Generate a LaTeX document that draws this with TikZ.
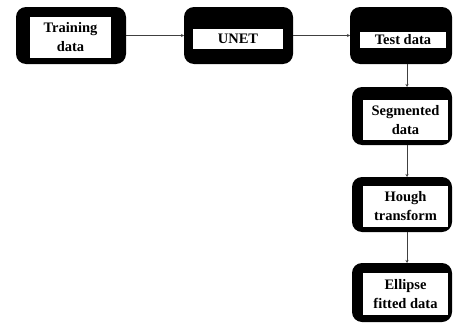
\documentclass[tikz,border=0pt]{standalone}
\usepackage{fontspec}
\setmainfont{Liberation Serif}
\usetikzlibrary{arrows.meta}
\begin{document}
\begin{tikzpicture}[x=1pt,y=-1pt,
  outerbox/.style={fill=black,rounded corners=10pt,inner sep=0pt,outer sep=0pt},
  innerbox/.style={fill=white,inner sep=0pt,align=center,font=\bfseries\fontsize{14.5}{19}\selectfont},
  arr/.style={draw=black!75,line width=0.6pt,-{Stealth[length=3pt,width=3pt]}}]
\useasboundingbox (0,0) rectangle (455,324);
\coordinate (v) at (407,0);
% boxes
\node[outerbox,minimum width=110pt,minimum height=57pt] (b1) at (71,35.5) {};
\node[innerbox,minimum width=81pt,minimum height=41pt] (t1) at (70.5,37.5) {Training\\data};
\node[outerbox,minimum width=109pt,minimum height=57pt] (b2) at (238.5,35.5) {};
\node[innerbox,minimum width=90pt,minimum height=20pt] (t2) at (238,39) {UNET};
\node[outerbox,minimum width=102pt,minimum height=57pt] (b3) at (401,35.5) {};
\node[innerbox,minimum width=86pt,minimum height=16pt] (t3) at (403,40) {Test data};
\node[outerbox,minimum width=100pt,minimum height=58pt] (b4) at (402,116) {};
\node[innerbox,minimum width=85pt,minimum height=40pt] (t4) at (405.5,120) {Segmented\\data};
\node[outerbox,minimum width=100pt,minimum height=55pt] (b5) at (402,204.5) {};
\node[innerbox,minimum width=85pt,minimum height=41pt] (t5) at (405.5,206.5) {Hough\\transform};
\node[outerbox,minimum width=100pt,minimum height=59pt] (b6) at (402,292.5) {};
\node[innerbox,minimum width=85pt,minimum height=42pt] (t6) at (405.5,294) {Ellipse\\fitted data};
% connectors
\draw[arr] (b1.east) -- (b2.west);
\draw[arr] (b2.east) -- (b3.west);
\draw[arr] (b3.south -| v) -- (b4.north -| v);
\draw[arr] (b4.south -| v) -- (b5.north -| v);
\draw[arr] (b5.south -| v) -- (b6.north -| v);
\end{tikzpicture}
\end{document}
